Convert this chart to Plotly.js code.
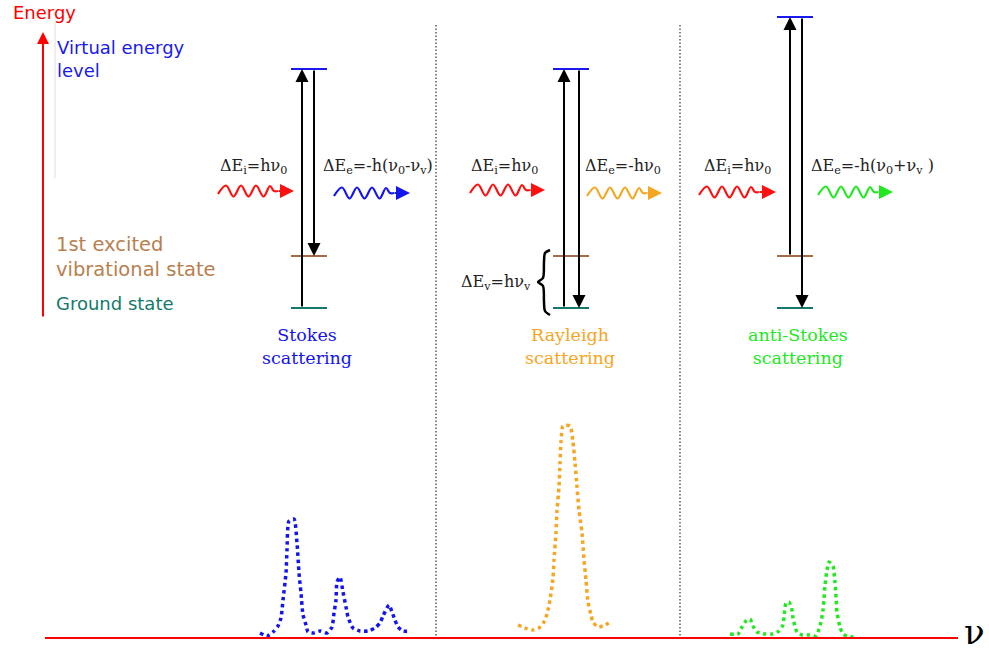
<!DOCTYPE html>
<html>
<head>
<meta charset="utf-8">
<script src="https://cdn.plot.ly/plotly-3.0.1.min.js"></script>
<style>html,body{margin:0;padding:0;background:#fff;}#chart{width:989px;height:652px;}</style>
</head>
<body>
<div id="chart"></div>
<script>
// ---------- data (in drawing units) ----------
const panels = ['Stokes', 'Rayleigh', 'anti-Stokes'];
const panelColors = ['#1414ee', '#f5a623', '#22e822'];
const panelCenters = [309, 571, 795];
const panelLabelX = [307, 570, 798];
const levelHalfWidth = 18;
const virtualLevelY = [69, 69, 17];
const excitedLevelY = 256;
const groundLevelY = 308;
const levelColors = {virtual: '#1a1aee', excited: '#a86a48', ground: '#137a6c'};

// excitation / emission arrows: [x, fromY, toY]
const upArrows = [[302, 308, 69], [564, 308, 69], [790, 256, 17]];
const downArrows = [[314, 69, 256], [579, 69, 308], [802, 17, 308]];

// photon wave template (offsets)
const waveDx = [0, 8, 15.5, 23, 30.5, 38, 45.5, 52, 56, 60];
const waveDy = [3, -5.5, 5.5, -5.5, 5.5, -5.5, 5.5, -5, 0, 0];
// photons: [x0, y0, tip, color]
const photons = [
  [218, 191, 294, '#ff1010'], [334, 193, 410, '#1414ee'],
  [470, 190, 545, '#ff1010'], [587, 193, 662, '#f5a623'],
  [699, 192, 776, '#ff1010'], [818, 192, 893, '#22e822']
];
const formulas = [
  [218, 'ΔE<sub>i</sub>=hν<sub>0</sub>'], [321, 'ΔE<sub>e</sub>=-h(ν<sub>0</sub>-ν<sub>v</sub>)'],
  [469, 'ΔE<sub>i</sub>=hν<sub>0</sub>'], [583, 'ΔE<sub>e</sub>=-hν<sub>0</sub>'],
  [702, 'ΔE<sub>i</sub>=hν<sub>0</sub>'], [809, 'ΔE<sub>e</sub>=-h(ν<sub>0</sub>+ν<sub>v</sub> )']
];

// spectra (dotted curves)
const stokesX = [260,267,273,278,281,283,286,287,289,294,297,299,301,303,306,308,313,320,327,332,334,336,337,340,343,346,348,353,360,368,375,380,383,389,392,395,398,403,410];
const stokesY = [633,636,632,626,618,600,573,550,521,519,543,573,593,615,625,632,633,631,633,627,613,600,582,577,592,607,617,628,631,631,628,623,616,605,612,620,627,631,631];
const rayleighX = [518,525,532,539,544,547,550,553,554,556,557,559,560,561,563,570,573,575,577,579,582,584,586,588,591,593,598,605,612];
const rayleighY = [625,628,630,628,622,614,600,578,560,533,510,487,463,442,426,426,442,463,487,510,533,560,580,602,615,622,627,625,621];
const antiX = [730,738,742,746,750,753,757,765,772,779,783,784,786,789,792,793,797,802,809,816,819,821,823,824,825,827,829,833,834,835,836,837,840,843,850,857];
const antiY = [634,634,627,621,619,626,632,634,634,631,625,617,603,602,610,618,632,635,635,636,629,622,610,598,585,570,562,566,573,582,597,612,627,634,637,636];

const separatorsX = [436, 680];

// ---------- build ----------
const traces = [];
const annotations = [];

// energy levels
panelCenters.forEach((c, i) => {
  [[virtualLevelY[i], levelColors.virtual], [excitedLevelY, levelColors.excited], [groundLevelY, levelColors.ground]].forEach(([y, col]) => {
    traces.push({x: [c - levelHalfWidth, c + levelHalfWidth], y: [y, y], mode: 'lines', line: {color: col, width: 2}, hoverinfo: 'skip'});
  });
});

function arrow(x, y, ax, ay, color, width, size) {
  annotations.push({x: x, y: y, ax: ax, ay: ay, xref: 'x', yref: 'y', axref: 'x', ayref: 'y',
    text: '', showarrow: true, arrowhead: 2, arrowsize: size, arrowwidth: width, arrowcolor: color, standoff: 0});
}
upArrows.forEach(([x, y0, y1]) => arrow(x, y1, x, y0, '#000', 2, 1.3));
downArrows.forEach(([x, y0, y1]) => arrow(x, y1, x, y0, '#000', 2, 1.3));

// photons
photons.forEach(([x0, y0, tip, col]) => {
  traces.push({x: waveDx.map(d => x0 + d), y: waveDy.map(d => y0 + d), mode: 'lines',
    line: {color: col, width: 2.2, shape: 'spline', smoothing: 1}, hoverinfo: 'skip'});
  arrow(tip, y0, x0 + 59, y0, col, 2, 1.4);
});
formulas.forEach(([x, t]) => annotations.push({x: x, y: 166, xref: 'x', yref: 'y', text: t, showarrow: false,
  xanchor: 'left', yanchor: 'middle', font: {family: 'DejaVu Serif', size: 16, color: '#222'}}));
annotations.push({x: 459, y: 282, xref: 'x', yref: 'y', text: 'ΔE<sub>v</sub>=hν<sub>v</sub>', showarrow: false,
  xanchor: 'left', yanchor: 'middle', font: {family: 'DejaVu Serif', size: 16, color: '#222'}});

// brace
traces.push({x: [550, 545, 544, 543, 538, 543, 544, 545, 550], y: [250, 253, 262, 278, 282, 286, 302, 311, 315],
  mode: 'lines', line: {color: '#000', width: 2.5, shape: 'spline', smoothing: 0.8}, hoverinfo: 'skip'});

// panel labels
panels.forEach((p, i) => annotations.push({x: panelLabelX[i], y: 346, xref: 'x', yref: 'y',
  text: p + '<br>scattering', showarrow: false, xanchor: 'center', yanchor: 'middle', align: 'center',
  font: {family: 'DejaVu Serif', size: 17.5, color: panelColors[i]}}));

// separators
separatorsX.forEach(x => traces.push({x: [x, x], y: [25, 640], mode: 'lines',
  line: {color: '#333', width: 1.2, dash: '1.5px,2px'}, hoverinfo: 'skip'}));

// energy axis
traces.push({x: [55, 55], y: [20, 178], mode: 'lines', line: {color: '#dddddd', width: 1}, hoverinfo: 'skip'});
arrow(43, 32, 43, 318, '#ff0000', 2, 1.2);
annotations.push({x: 11, y: 12, xref: 'x', yref: 'y', text: 'Energy', showarrow: false, xanchor: 'left', yanchor: 'middle',
  font: {family: 'DejaVu Sans', size: 18, color: '#ff0000'}});
annotations.push({x: 55, y: 59, xref: 'x', yref: 'y', text: 'Virtual energy<br>level', showarrow: false, xanchor: 'left', yanchor: 'middle', align: 'left',
  font: {family: 'DejaVu Sans', size: 18, color: '#1a1aee'}});
annotations.push({x: 54, y: 256.5, xref: 'x', yref: 'y', text: '1st excited<br>vibrational state', showarrow: false, xanchor: 'left', yanchor: 'middle', align: 'left',
  font: {family: 'DejaVu Sans', size: 19.5, color: '#b8804f'}});
annotations.push({x: 54, y: 303, xref: 'x', yref: 'y', text: 'Ground state', showarrow: false, xanchor: 'left', yanchor: 'middle',
  font: {family: 'DejaVu Sans', size: 18, color: '#137a6c'}});

// spectra
[[stokesX, stokesY, panelColors[0]], [rayleighX, rayleighY, panelColors[1]], [antiX, antiY, panelColors[2]]].forEach(([xs, ys, col]) => {
  traces.push({x: xs, y: ys, mode: 'lines', line: {color: col, width: 3.5, dash: 'dot', shape: 'spline', smoothing: 0.6}, hoverinfo: 'skip'});
});

// frequency axis
traces.push({x: [45, 958], y: [638, 638], mode: 'lines', line: {color: '#ff0000', width: 2}, hoverinfo: 'skip'});
annotations.push({x: 974, y: 632, xref: 'x', yref: 'y', text: 'ν', showarrow: false, xanchor: 'center', yanchor: 'middle',
  font: {family: 'DejaVu Serif', size: 34, color: '#000'}});

const layout = {
  width: 989, height: 652,
  margin: {l: 0, r: 0, t: 0, b: 0},
  paper_bgcolor: '#ffffff', plot_bgcolor: '#ffffff',
  showlegend: false,
  xaxis: {range: [0, 989], visible: false, fixedrange: true},
  yaxis: {range: [652, 0], visible: false, fixedrange: true},
  annotations: annotations
};
Plotly.newPlot('chart', traces, layout, {displayModeBar: false, staticPlot: true});
</script>
</body>
</html>
